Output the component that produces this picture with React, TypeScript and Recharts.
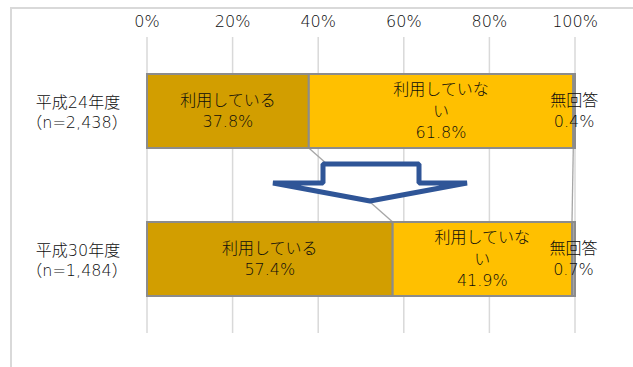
import { Bar, BarChart, CartesianGrid, LabelList, XAxis, YAxis } from 'recharts'

const categories = ['平成24年度', '平成30年度']
const sampleSizes = ['（n=2,438）', '（n=1,484）']
const using = [37.8, 57.4]
const notUsing = [61.8, 41.9]
const noAnswer = [0.4, 0.7]
const seriesKeys = ['using', 'notUsing', 'noAnswer']
const seriesLabels = [['利用している'], ['利用していな', 'い'], ['無回答']]
const xTicks = [0, 20, 40, 60, 80, 100]

const W = 633
const H = 367
const MARGIN = { top: 7, right: 58, bottom: 34, left: 0 }
const X_AXIS_H = 30
const Y_AXIS_W = 147
const BAR_SIZE = 74
const BAND = (H - MARGIN.top - MARGIN.bottom - X_AXIS_H) / categories.length
const COLORS = ['#D29E00', '#FFC000', '#A5A5A5']
const FONT = '"DejaVu Sans", "Noto Sans CJK JP", sans-serif'
const CJK_FONT = '"Noto Sans CJK JP", sans-serif'
const WEIGHT = 300
const INK = '#0d0d0d'

const data = categories.map((name, i) => ({
  name,
  n: sampleSizes[i],
  using: using[i],
  notUsing: notUsing[i],
  noAnswer: noAnswer[i],
}))

type Row = (typeof data)[number]

function cumulative(row: Row, s: number) {
  return seriesKeys.slice(0, s + 1).reduce((acc, k) => acc + (row as any)[k], 0)
}

// bar segment + the grey "series line" down to the next row
function makeShape(s: number) {
  return (props: any) => {
    const { x, y, width, height, index } = props
    const row = data[index]
    let connector = null
    if (index < data.length - 1 && s < seriesKeys.length - 1) {
      const next = data[index + 1]
      const ppu = width / (row as any)[seriesKeys[s]]
      const start = x + width - cumulative(row, s) * ppu
      connector = (
        <line
          x1={x + width}
          y1={y + height}
          x2={start + cumulative(next, s) * ppu}
          y2={y + height + BAND - BAR_SIZE}
          stroke="#A6A6A6"
          strokeWidth={1.3}
        />
      )
    }
    return (
      <g>
        <rect x={x} y={y} width={width} height={height} fill={COLORS[s]} stroke="#8C8C8C" strokeWidth={2} />
        {connector}
      </g>
    )
  }
}

function makeLabel(s: number) {
  return (props: any) => {
    const { x, y, width, height, value } = props
    const lines = [...seriesLabels[s], `${Number(value).toFixed(1)}%`]
    const cx = Number(x) + Number(width) / 2
    const cy = Number(y) + Number(height) / 2
    const step = 21.5
    return (
      <text textAnchor="middle" fontSize={16} fill={INK} fontFamily={FONT} fontWeight={WEIGHT}>
        {lines.map((l, i) => (
          <tspan key={i} x={cx} y={cy + (i - (lines.length - 1) / 2) * step + 5.5}>
            {l}
          </tspan>
        ))}
      </text>
    )
  }
}

// the full-width brackets get trimmed at the line edges, so pad them
function CategoryTick(props: any) {
  const { y, payload, index } = props
  const cx = 78
  const n = sampleSizes[index]
  return (
    <text textAnchor="middle" fontSize={16} fill={INK} fontFamily={FONT} fontWeight={WEIGHT}>
      <tspan x={cx} y={y - 9 + 5.5}>{payload.value}</tspan>
      <tspan x={cx - 1} y={y + 11 + 5.5}>
        <tspan fontFamily={CJK_FONT}>{'\u200B' + n.slice(0, 1)}</tspan>
        {n.slice(1, -1)}
        <tspan fontFamily={CJK_FONT}>{n.slice(-1) + '\u200B'}</tspan>
      </tspan>
    </text>
  )
}

export default function App() {
  return (
    <div
      style={{
        position: 'absolute',
        left: 0,
        top: 0,
        width: W,
        height: H,
        background: '#fff',
        overflow: 'hidden',
        fontFamily: FONT,
      }}
    >
      <div
        style={{
          position: 'absolute',
          left: 10,
          top: 7,
          width: 800,
          height: 500,
          borderLeft: '2px solid #D9D9D9',
          borderTop: '2px solid #D9D9D9',
        }}
      />
      <div style={{ position: 'absolute', left: 0, top: 0 }}>
        <BarChart width={W} height={H} data={data} layout="vertical" margin={MARGIN} barSize={BAR_SIZE}>
          <CartesianGrid horizontal={false} stroke="#D9D9D9" strokeWidth={1.5} />
          <XAxis
            type="number"
            orientation="top"
            domain={[0, 100]}
            ticks={xTicks}
            height={X_AXIS_H}
            axisLine={false}
            tickLine={false}
            tickSize={6}
            tickMargin={4}
            tickFormatter={(v) => `${v}%`}
            tick={{ fontSize: 16, fill: INK, fontFamily: FONT, fontWeight: WEIGHT }}
          />
          <YAxis
            type="category"
            dataKey="name"
            width={Y_AXIS_W}
            axisLine={false}
            tickLine={false}
            tick={<CategoryTick />}
          />
          {seriesKeys.map((k, s) => (
            <Bar key={k} dataKey={k} stackId="a" fill={COLORS[s]} shape={makeShape(s)} isAnimationActive={false}>
              <LabelList dataKey={k} content={makeLabel(s)} />
            </Bar>
          ))}
        </BarChart>
      </div>
      <svg width={W} height={H} style={{ position: 'absolute', left: 0, top: 0, pointerEvents: 'none' }}>
        <polygon
          points="323,164 419,164 419,183 467,183 370,201 273,183 323,183"
          fill="#fff"
          stroke="#2F5597"
          strokeWidth={5}
          strokeLinejoin="bevel"
        />
      </svg>
    </div>
  )
}
